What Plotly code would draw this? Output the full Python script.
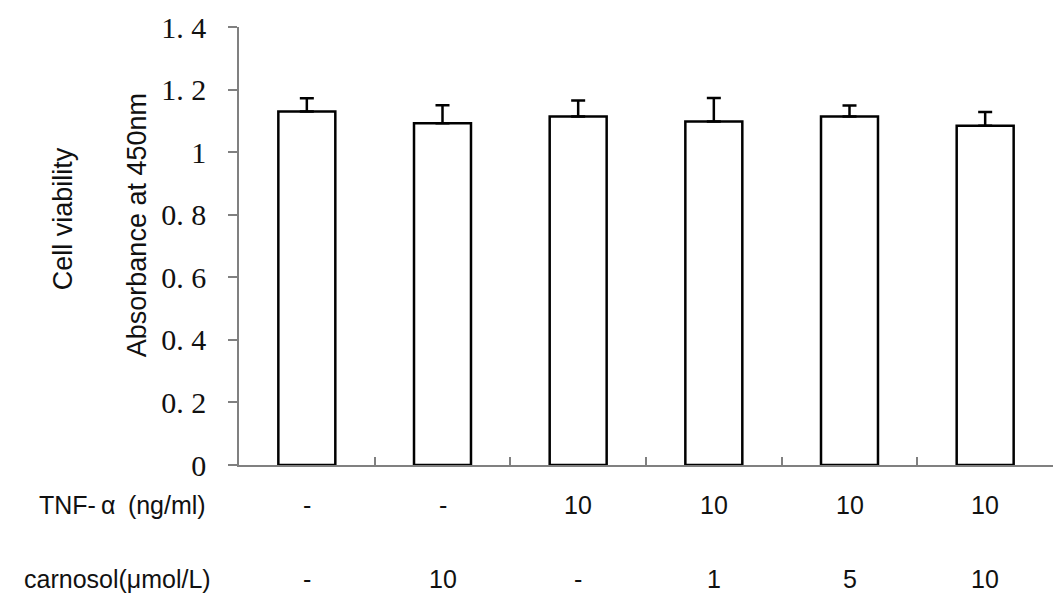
import plotly.graph_objects as go

groups = [0, 1, 2, 3, 4, 5]
tnf = ['-', '-', '10', '10', '10', '10']
carnosol = ['-', '10', '-', '1', '5', '10']
absorbance = [1.130, 1.092, 1.114, 1.098, 1.114, 1.084]
sd_up = [0.042, 0.058, 0.051, 0.075, 0.035, 0.044]

y_ticks = [0, 0.2, 0.4, 0.6, 0.8, 1.0, 1.2, 1.4]
y_ticktext = ['0', '0. 2', '0. 4', '0. 6', '0. 8', '1', '1. 2', '1. 4']

axis_grey = '#808080'
sans = 'Liberation Sans, Arial, sans-serif'
serif = 'Liberation Serif, Times New Roman, serif'

# the page body adds an 8px margin, so the figure is placed 8px in
OFF = 8
PLOT_L, PLOT_R, PLOT_T, PLOT_B = 239, 1053, 23, 465
FIG_W, FIG_H = 1047, 598

def px_x(px):
    return (px - PLOT_L) / (PLOT_R - PLOT_L)

def px_y(py):
    return (PLOT_B - py) / (PLOT_B - PLOT_T)

fig = go.Figure()
fig.add_trace(go.Bar(
    x=groups, y=absorbance,
    marker=dict(color='white', line=dict(color='black', width=2.5)),
    error_y=dict(type='data', array=sd_up, arrayminus=[0] * len(sd_up),
                 symmetric=False, color='black', thickness=2.5, width=7),
    width=0.42,
    showlegend=False,
))

fig.update_xaxes(
    range=[-0.5, 5.5], tickvals=[g - 0.5 for g in groups] + [5.5],
    showticklabels=False, ticks='inside', ticklen=8, tickcolor=axis_grey,
    tickwidth=1.5, showline=True, linecolor=axis_grey, linewidth=1.5,
    showgrid=False, zeroline=False,
)
fig.update_yaxes(
    range=[0, 1.4], tickvals=y_ticks, ticktext=y_ticktext,
    ticks='outside', ticklen=9, tickcolor=axis_grey, tickwidth=1.5,
    ticklabelstandoff=16, ticklabeloverflow='allow',
    showline=True, linecolor=axis_grey, linewidth=1.5,
    showgrid=False, zeroline=False,
    tickfont=dict(family=serif, size=30, color='#111111'),
)

# row labels and per-group treatment values under the axis
rows = [('TNF-\u2009\u03b1\u2002(ng/ml)', tnf, 505, 37), ('carnosol(\u03bcmol/L)', carnosol, 580, 22)]
for label, vals, py, lx in rows:
    fig.add_annotation(text=label, xref='paper', x=px_x(lx), xanchor='left',
                       yref='paper', y=px_y(py), yanchor='middle', showarrow=False,
                       font=dict(family=sans, size=25, color='#111111'))
    for g, v in zip(groups, vals):
        fig.add_annotation(text=v, xref='x', x=g, yref='paper', y=px_y(py),
                           yanchor='middle', showarrow=False,
                           font=dict(family=sans, size=25, color='#111111'))

# two-line rotated y title
fig.add_annotation(text='Cell viability', xref='paper', x=px_x(63), xanchor='center',
                   yref='paper', y=px_y(217), yanchor='middle', textangle=-90,
                   showarrow=False, font=dict(family=sans, size=27, color='#111111'))
fig.add_annotation(text='Absorbance at 450nm', xref='paper', x=px_x(137), xanchor='center',
                   yref='paper', y=px_y(223), yanchor='middle', textangle=-90,
                   showarrow=False, font=dict(family=sans, size=27, color='#111111'))

fig.update_layout(
    width=FIG_W, height=FIG_H,
    margin=dict(l=PLOT_L - OFF, r=FIG_W - (PLOT_R - OFF),
                t=PLOT_T - OFF, b=FIG_H - (PLOT_B - OFF)),
    plot_bgcolor='white', paper_bgcolor='white',
)

fig.write_html("out.html")
